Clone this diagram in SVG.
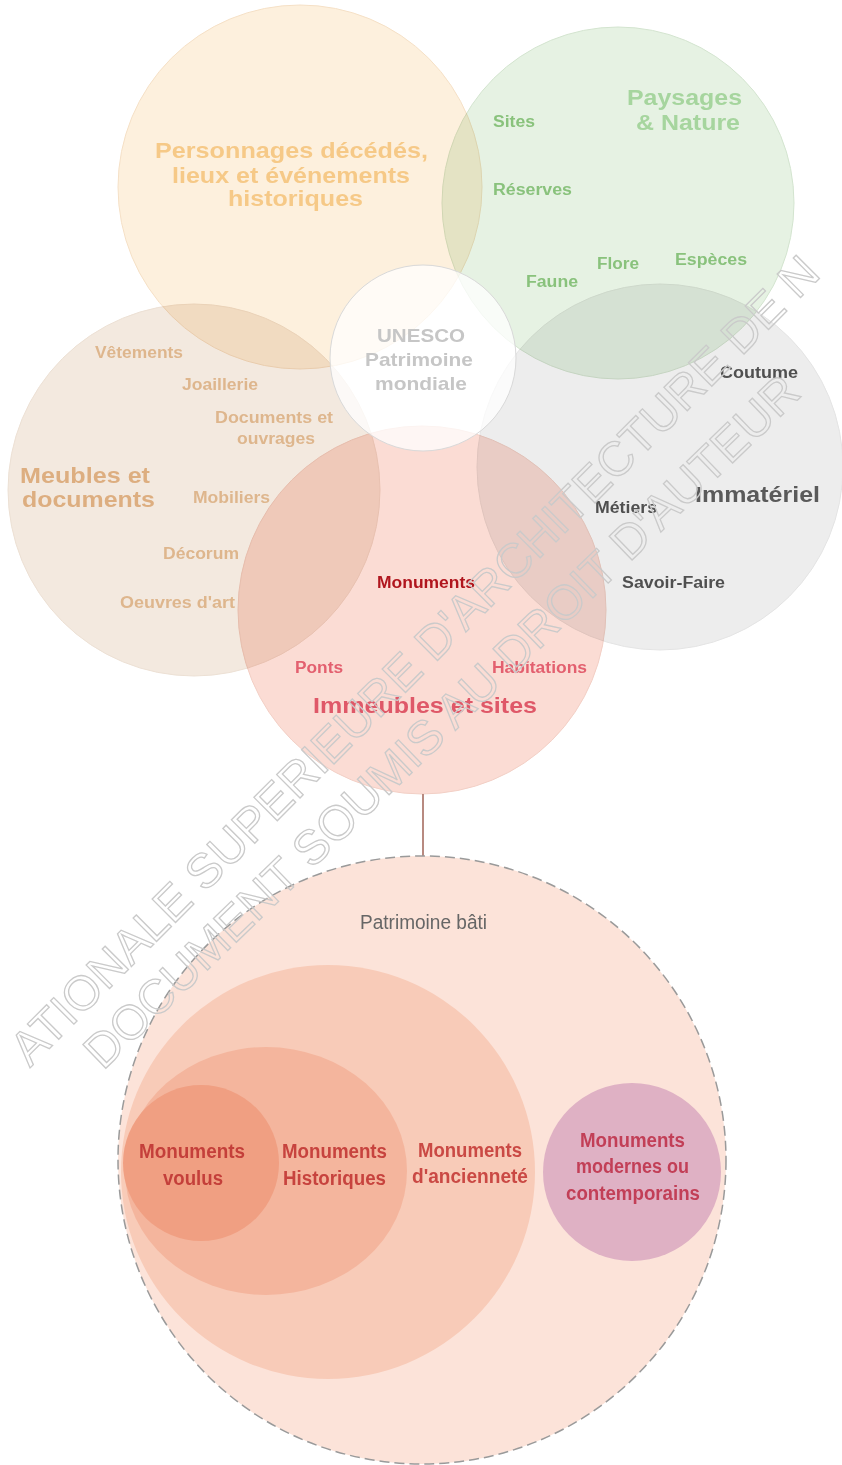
<svg xmlns="http://www.w3.org/2000/svg" width="842" height="1465" viewBox="0 0 842 1465">
<style>
.t{font-family:"Liberation Sans",Arial,sans-serif;font-weight:bold}
.r{font-family:"Liberation Sans",Arial,sans-serif;font-weight:normal}
.m{mix-blend-mode:multiply}
.big{font-size:22px}
.sm{font-size:16px}
.bl{font-size:20px}
.wm{font-family:"Liberation Sans",Arial,sans-serif;font-size:48px;fill:none;stroke:#cacaca;stroke-width:1.3}
</style>
<rect width="842" height="1465" fill="#ffffff"/>

<g id="node-personnages">
  <circle class="m" cx="300" cy="187" r="182" fill="#fdf0dd" stroke="#f5e0c6" stroke-width="1"/>
  <g class="t big" fill="#f6c987">
    <text x="155" y="158" textLength="273" lengthAdjust="spacingAndGlyphs">Personnages décédés,</text>
    <text x="172" y="183" textLength="238" lengthAdjust="spacingAndGlyphs">lieux et événements</text>
    <text x="228" y="206" textLength="135" lengthAdjust="spacingAndGlyphs">historiques</text>
  </g>
</g>

<g id="node-paysages">
  <circle class="m" cx="618" cy="203" r="176" fill="#e6f2e3" stroke="#d3e4cf" stroke-width="1"/>
  <g class="t big" fill="#a6d59e">
    <text x="627" y="105" textLength="115" lengthAdjust="spacingAndGlyphs">Paysages</text>
    <text x="636" y="130" textLength="104" lengthAdjust="spacingAndGlyphs">&amp; Nature</text>
  </g>
  <g class="t sm" fill="#89c27c">
    <text x="493" y="127" textLength="42" lengthAdjust="spacingAndGlyphs">Sites</text>
    <text x="493" y="195" textLength="79" lengthAdjust="spacingAndGlyphs">Réserves</text>
    <text x="597" y="269" textLength="42" lengthAdjust="spacingAndGlyphs">Flore</text>
    <text x="675" y="265" textLength="72" lengthAdjust="spacingAndGlyphs">Espèces</text>
    <text x="526" y="287" textLength="52" lengthAdjust="spacingAndGlyphs">Faune</text>
  </g>
</g>

<g id="node-meubles">
  <circle class="m" cx="194" cy="490" r="186" fill="#f3e9df" stroke="#ece0d4" stroke-width="1"/>
  <g class="t big" fill="#ddae80">
    <text x="20" y="483" textLength="130" lengthAdjust="spacingAndGlyphs">Meubles et</text>
    <text x="22" y="507" textLength="133" lengthAdjust="spacingAndGlyphs">documents</text>
  </g>
  <g class="t sm" fill="#deb68d">
    <text x="95" y="358" textLength="88" lengthAdjust="spacingAndGlyphs">Vêtements</text>
    <text x="182" y="390" textLength="76" lengthAdjust="spacingAndGlyphs">Joaillerie</text>
    <text x="215" y="423" textLength="118" lengthAdjust="spacingAndGlyphs">Documents et</text>
    <text x="237" y="444" textLength="78" lengthAdjust="spacingAndGlyphs">ouvrages</text>
    <text x="193" y="503" textLength="77" lengthAdjust="spacingAndGlyphs">Mobiliers</text>
    <text x="163" y="559" textLength="76" lengthAdjust="spacingAndGlyphs">Décorum</text>
    <text x="120" y="608" textLength="115" lengthAdjust="spacingAndGlyphs">Oeuvres d'art</text>
  </g>
</g>

<g id="node-immateriel">
  <circle class="m" cx="660" cy="467" r="183" fill="#ededed" stroke="#e4e4e4" stroke-width="1"/>
  <text class="t big" x="695" y="502" fill="#5a5a5a" textLength="125" lengthAdjust="spacingAndGlyphs">Immatériel</text>
  <g class="t sm" fill="#505050">
    <text x="720" y="378" textLength="78" lengthAdjust="spacingAndGlyphs">Coutume</text>
    <text x="595" y="513" textLength="62" lengthAdjust="spacingAndGlyphs">Métiers</text>
    <text x="622" y="588" textLength="103" lengthAdjust="spacingAndGlyphs">Savoir-Faire</text>
  </g>
</g>

<g id="node-immeubles">
  <circle class="m" cx="422" cy="610" r="184" fill="#fbdcd4" stroke="#f2cfc5" stroke-width="1"/>
  <text class="t sm" x="377" y="588" fill="#b0161e" textLength="98" lengthAdjust="spacingAndGlyphs">Monuments</text>
  <g class="t sm" fill="#e3606f">
    <text x="295" y="673" textLength="48" lengthAdjust="spacingAndGlyphs">Ponts</text>
    <text x="492" y="673" textLength="95" lengthAdjust="spacingAndGlyphs">Habitations</text>
  </g>
  <text class="t big" x="313" y="713" fill="#df5868" textLength="224" lengthAdjust="spacingAndGlyphs">Immeubles et sites</text>
</g>

<g id="node-unesco">
  <circle cx="423" cy="358" r="93" fill="#ffffff" fill-opacity="0.74" stroke="#d9d9d9" stroke-width="1"/>
  <g class="t" font-size="19" fill="#c6c6c6">
    <text x="377" y="342" textLength="88" lengthAdjust="spacingAndGlyphs">UNESCO</text>
    <text x="365" y="366" textLength="108" lengthAdjust="spacingAndGlyphs">Patrimoine</text>
    <text x="375" y="390" textLength="92" lengthAdjust="spacingAndGlyphs">mondiale</text>
  </g>
</g>

<g id="connectors">
  <line x1="423" y1="794" x2="423" y2="857" stroke="#b88a80" stroke-width="2"/>
</g>

<g id="node-patrimoine-bati">
  <circle cx="422" cy="1160" r="304" fill="#fce3d9" stroke="#9a9a9a" stroke-width="1.5" stroke-dasharray="10 5"/>
  <text class="r" x="360" y="929" font-size="20" fill="#666666" textLength="127" lengthAdjust="spacingAndGlyphs">Patrimoine bâti</text>
</g>

<g id="node-anciennete">
  <circle cx="328" cy="1172" r="207" fill="#f8cbb8"/>
</g>
<g id="node-historiques">
  <ellipse cx="266" cy="1171" rx="141" ry="124" fill="#f4b59d"/>
</g>
<g id="node-voulus">
  <circle cx="201" cy="1163" r="78" fill="#f09f82"/>
  <g class="t bl" fill="#c43f3a">
    <text x="139" y="1158" textLength="106" lengthAdjust="spacingAndGlyphs">Monuments</text>
    <text x="163" y="1185" textLength="60" lengthAdjust="spacingAndGlyphs">voulus</text>
  </g>
</g>
<g id="labels-historiques" class="t bl" fill="#c7433e">
  <text x="282" y="1158" textLength="105" lengthAdjust="spacingAndGlyphs">Monuments</text>
  <text x="283" y="1185" textLength="103" lengthAdjust="spacingAndGlyphs">Historiques</text>
</g>
<g id="labels-anciennete" class="t bl" fill="#ca4944">
  <text x="418" y="1157" textLength="104" lengthAdjust="spacingAndGlyphs">Monuments</text>
  <text x="412" y="1183" textLength="116" lengthAdjust="spacingAndGlyphs">d'ancienneté</text>
</g>
<g id="node-modernes">
  <circle cx="632" cy="1172" r="89" fill="#dfb1c4"/>
  <g class="t bl" fill="#c23f57">
    <text x="580" y="1147" textLength="105" lengthAdjust="spacingAndGlyphs">Monuments</text>
    <text x="576" y="1173" textLength="113" lengthAdjust="spacingAndGlyphs">modernes ou</text>
    <text x="566" y="1200" textLength="134" lengthAdjust="spacingAndGlyphs">contemporains</text>
  </g>
</g>

<g id="watermark" class="wm">
  <text x="30" y="1068" transform="rotate(-45 30 1068)">ATIONALE SUPERIEURE D'ARCHITECTURE DE N</text>
  <text x="103" y="1071" transform="rotate(-44 103 1071)">DOCUMENT SOUMIS AU DROIT D'AUTEUR</text>
</g>
</svg>
